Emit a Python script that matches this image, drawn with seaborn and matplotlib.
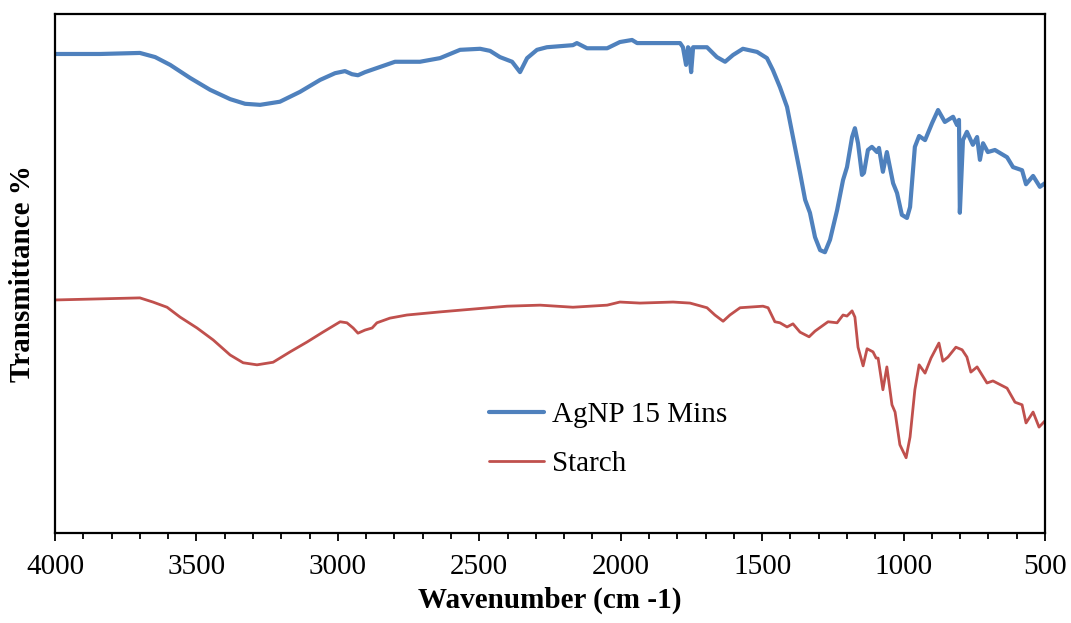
import matplotlib
matplotlib.use("Agg")
import matplotlib.pyplot as plt
import seaborn as sns
import pandas as pd
from matplotlib.ticker import MultipleLocator

# FTIR spectra (wavenumber in cm-1, transmittance in arbitrary %)
agnp_wn = [4000, 3841, 3700, 3646, 3593, 3523, 3452, 3381, 3328, 3275, 3205, 3134, 3063,
           3010, 2975, 2950, 2929, 2904, 2851, 2798, 2710, 2639, 2568, 2497, 2462, 2427,
           2384, 2356, 2331, 2296, 2261, 2169, 2155, 2119, 2048, 2003, 1960, 1942, 1872,
           1790, 1780, 1769, 1762, 1759, 1751, 1744, 1695, 1660, 1631, 1603, 1568, 1518,
           1483, 1462, 1437, 1412, 1391, 1366, 1348, 1331, 1313, 1295, 1278, 1260, 1235,
           1214, 1200, 1182, 1172, 1161, 1147, 1140, 1126, 1112, 1094, 1087, 1073, 1059,
           1037, 1023, 1006, 988, 977, 960, 945, 924, 899, 878, 854, 825, 811, 804, 801,
           790, 776, 755, 740, 730, 719, 702, 677, 634, 613, 581, 567, 542, 518, 500]
agnp_t = [92.3, 92.3, 92.5, 91.7, 90.2, 87.7, 85.4, 83.6, 82.7, 82.5, 83.1, 85.0, 87.3,
          88.6, 89.0, 88.4, 88.2, 88.8, 89.8, 90.8, 90.8, 91.5, 93.1, 93.3, 92.9, 91.7,
          90.8, 88.8, 91.5, 93.1, 93.6, 94.0, 94.4, 93.4, 93.4, 94.6, 95.0, 94.4, 94.4,
          94.4, 93.6, 90.2, 93.6, 93.4, 88.8, 93.6, 93.6, 91.7, 90.8, 92.1, 93.3, 92.7,
          91.5, 89.2, 85.9, 82.1, 76.3, 69.4, 64.2, 61.7, 57.0, 54.5, 54.1, 56.5, 62.2,
          68.0, 70.5, 76.3, 78.0, 75.1, 69.0, 69.4, 73.8, 74.4, 73.4, 74.2, 69.6, 73.4,
          67.4, 65.5, 61.3, 60.7, 62.8, 74.4, 76.5, 75.7, 79.0, 81.5, 79.2, 80.2, 78.6, 79.6, 61.7,
          75.7, 77.3, 74.8, 76.3, 71.9, 75.1, 73.4, 73.8, 72.4, 70.5, 69.9, 67.2, 68.8, 66.7, 67.4]

starch_wn = [4000, 3700, 3654, 3604, 3558, 3498, 3441, 3381, 3335, 3286, 3229, 3169, 3109,
             3053, 2992, 2968, 2946, 2929, 2904, 2879, 2862, 2816, 2756, 2639, 2402, 2285,
             2169, 2048, 2003, 1932, 1815, 1755, 1695, 1667, 1638, 1614, 1578, 1497, 1479,
             1455, 1437, 1412, 1391, 1366, 1334, 1313, 1267, 1235, 1214, 1200, 1182, 1172,
             1161, 1143, 1129, 1108, 1097, 1090, 1073, 1059, 1041, 1030, 1013, 991, 977,
             960, 945, 924, 903, 875, 861, 843, 815, 793, 776, 762, 740, 705, 684, 634,
             606, 581, 567, 542, 521, 500]
starch_t = [44.9, 45.3, 44.5, 43.5, 41.6, 39.5, 37.2, 34.3, 32.8, 32.4, 32.9, 34.9, 36.8,
            38.7, 40.7, 40.5, 39.5, 38.5, 39.1, 39.5, 40.5, 41.4, 42.0, 42.6, 43.7, 43.9,
            43.5, 43.9, 44.5, 44.3, 44.5, 44.3, 43.4, 42.0, 40.8, 42.0, 43.4, 43.7, 43.4,
            40.7, 40.5, 39.7, 40.3, 38.7, 37.8, 38.9, 40.7, 40.5, 42.0, 41.8, 42.8, 41.6,
            35.8, 32.2, 35.5, 34.9, 33.7, 33.7, 27.6, 32.0, 24.7, 23.3, 17.0, 14.5, 18.5,
            27.6, 32.4, 30.8, 33.7, 36.6, 33.1, 33.9, 35.8, 35.3, 33.9, 31.0, 32.0, 28.9, 29.3, 27.9,
            25.2, 24.7, 21.2, 23.3, 20.4, 21.6]

agnp = pd.DataFrame({"wn": agnp_wn, "t": agnp_t})
starch = pd.DataFrame({"wn": starch_wn, "t": starch_t})

sns.set_style("ticks")
plt.rcParams["font.family"] = ["Liberation Serif", "DejaVu Serif"]
plt.rcParams["text.color"] = "black"
plt.rcParams["axes.labelcolor"] = "black"
plt.rcParams["xtick.color"] = "black"

fig = plt.figure(figsize=(10.71, 6.23), dpi=100)
ax = fig.add_axes([0.0514, 0.1445, 0.9243, 0.833])

sns.lineplot(data=agnp, x="wn", y="t", ax=ax, color="#4F81BD", linewidth=3.0,
             estimator=None, sort=False, label="AgNP 15 Mins")
sns.lineplot(data=starch, x="wn", y="t", ax=ax, color="#C0504D", linewidth=2.0,
             estimator=None, sort=False, label="Starch")

ax.set_xlim(4000, 500)
ax.set_ylim(0, 100)
ax.xaxis.set_major_locator(MultipleLocator(500))
ax.xaxis.set_minor_locator(MultipleLocator(100))
ax.tick_params(axis="x", which="major", direction="out", length=6, width=1.3,
               labelsize=21, pad=9, colors="black")
ax.tick_params(axis="x", which="minor", direction="out", length=4, width=1.3)
ax.set_yticks([])

for side in ["left", "right", "top", "bottom"]:
    ax.spines[side].set_visible(True)
    ax.spines[side].set_linewidth(1.6)
    ax.spines[side].set_color("black")

ax.set_xlabel("Wavenumber (cm -1)", fontsize=21, fontweight="bold", labelpad=5)
ax.set_ylabel("Transmittance %", fontsize=21, fontweight="bold", labelpad=14)

ax.legend(loc="center", bbox_to_anchor=(0.5586, 0.18), frameon=False, fontsize=21,
          handlelength=1.9, handletextpad=0.25, labelspacing=0.78)

fig.savefig("out.png", dpi=100)
